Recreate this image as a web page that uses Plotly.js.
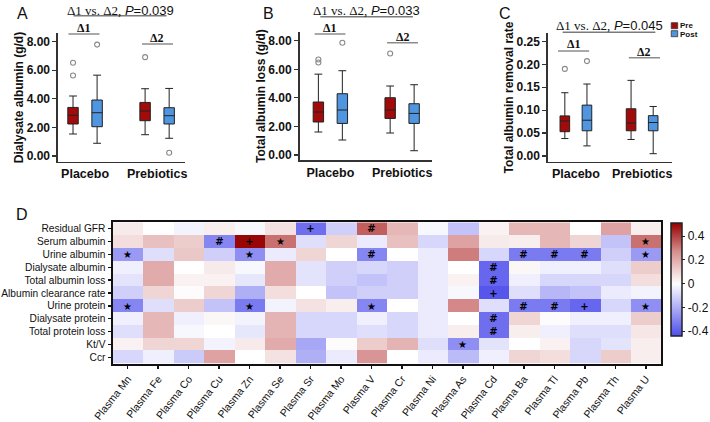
<!DOCTYPE html>
<html>
<head>
<meta charset="utf-8">
<script src="https://cdn.plot.ly/plotly-3.0.1.min.js"></script>
<style>html,body{margin:0;padding:0;background:#fff;}#chart{width:710px;height:422px;}</style>
</head>
<body>
<div id="chart"></div>
<script>
// ---------- DATA ----------
const groups = ['Placebo', 'Prebiotics'];
const phases = ['Pre', 'Post'];
// box stats per group: [lower whisker, q1, median, q3, upper whisker]
const dialAlbPre  = [[1.54, 2.24, 2.85, 3.40, 4.20], [1.49, 2.47, 3.15, 3.75, 4.71]];
const dialAlbPost = [[0.89, 2.05, 3.03, 3.92, 5.66], [1.24, 2.24, 2.82, 3.38, 4.73]];
const dialAlbPreOut  = [[6.53, 5.64], [6.92]];
const dialAlbPostOut = [[7.80], [0.23]];

const totAlbPre  = [[1.61, 2.31, 3.01, 3.71, 5.66], [1.54, 2.56, 3.15, 4.01, 4.83]];
const totAlbPost = [[1.05, 2.21, 3.15, 4.29, 5.90], [0.30, 2.21, 2.91, 3.59, 4.92]];
const totAlbPreOut  = [[6.69, 6.48], [7.11]];
const totAlbPostOut = [[7.86], []];

const remRatePre  = [[0.038, 0.053, 0.0765, 0.0875, 0.138], [0.036, 0.055, 0.072, 0.103, 0.165]];
const remRatePost = [[0.022, 0.055, 0.078, 0.111, 0.157], [0.005, 0.055, 0.073, 0.088, 0.108]];
const remRatePreOut  = [[0.19], []];
const remRatePostOut = [[0.207], []];

const pValues = ['0.039', '0.033', '0.045'];

const metals = ['Plasma Mn','Plasma Fe','Plasma Co','Plasma Cu','Plasma Zn','Plasma Se','Plasma Sr','Plasma Mo','Plasma V',
                'Plasma Cr','Plasma Ni','Plasma As','Plasma Cd','Plasma Ba','Plasma Tl','Plasma Pb','Plasma Th','Plasma U'];
const outcomes = ['Residual GFR','Serum albumin','Urine albumin','Dialysate albumin','Total albumin loss',
                  'Albumin clearance rate','Urine protein','Dialysate protein','Total protein loss','Kt/V','Ccr'];
const corr = [
  [ 0.05, 0.00,-0.03, 0.04,-0.02, 0.07,-0.36,-0.12, 0.35, 0.17,-0.02,-0.15, 0.03, 0.17, 0.17, 0.00, 0.22, 0.04],
  [ 0.08, 0.15, 0.12,-0.30, 0.50, 0.32,-0.08, 0.10,-0.05, 0.15,-0.10, 0.22, 0.05, 0.04, 0.17, 0.10,-0.15, 0.32],
  [-0.25,-0.08, 0.13,-0.12,-0.28,-0.05, 0.10, 0.00,-0.30, 0.00,-0.05, 0.30,-0.10,-0.33,-0.33,-0.33,-0.12,-0.25],
  [-0.04, 0.20, 0.00, 0.05,-0.02, 0.20,-0.07,-0.12,-0.10,-0.12,-0.05, 0.00,-0.38, 0.02,-0.04,-0.04,-0.08, 0.12],
  [-0.07, 0.20, 0.03, 0.03,-0.06, 0.20,-0.07,-0.12,-0.15,-0.12,-0.05, 0.03,-0.38,-0.04,-0.10,-0.10,-0.10, 0.08],
  [-0.12, 0.10, 0.01, 0.10,-0.20, 0.08, 0.00,-0.15,-0.12,-0.12,-0.05,-0.02,-0.42,-0.08,-0.18,-0.15,-0.05,-0.03],
  [-0.30,-0.08, 0.12,-0.15,-0.33,-0.03, 0.07, 0.04,-0.30, 0.00,-0.05, 0.28,-0.08,-0.33,-0.33,-0.38,-0.10,-0.28],
  [-0.04, 0.17,-0.04, 0.02,-0.03, 0.18,-0.10,-0.10,-0.04,-0.10,-0.05, 0.00,-0.36, 0.10, 0.01,-0.04,-0.04, 0.12],
  [-0.08, 0.17,-0.02, 0.00,-0.06, 0.18,-0.10,-0.10,-0.08,-0.10,-0.05, 0.04,-0.36, 0.04,-0.04,-0.08,-0.08, 0.06],
  [ 0.03, 0.10, 0.10,-0.03, 0.05, 0.20,-0.22, 0.01, 0.12, 0.18,-0.08,-0.28,-0.07, 0.00, 0.03,-0.10,-0.07, 0.04],
  [-0.10,-0.04,-0.13, 0.22, 0.00, 0.07,-0.20,-0.05, 0.25, 0.00,-0.05,-0.17,-0.04, 0.10, 0.08,-0.10, 0.12, 0.04]
];
const sig = [
  ['','','','','','','+','','#','','','','','','','','',''],
  ['','','','#','+','*','','','','','','','','','','','','*'],
  ['*','','','','*','','','','#','','','','','#','#','#','','*'],
  ['','','','','','','','','','','','','#','','','','',''],
  ['','','','','','','','','','','','','#','','','','',''],
  ['','','','','','','','','','','','','+','','','','',''],
  ['*','','','','*','','','','*','','','','','#','#','+','','*'],
  ['','','','','','','','','','','','','#','','','','',''],
  ['','','','','','','','','','','','','#','','','','',''],
  ['','','','','','','','','','','','*','','','','','',''],
  ['','','','','','','','','','','','','','','','','','']
];

// ---------- STYLE / LAYOUT ----------
const W = 710, H = 422;
const X = v => v / W, Y = v => 1 - v / H;
const FONT = 'Liberation Sans Narrow, Arial Narrow, Liberation Sans, Arial, sans-serif';
const SERIF = 'Liberation Serif';
const preColor = '#a30a0a', postColor = '#4f95e0';
const OFF = 0.167, BW = 0.145;

// bracket specs: [x0, x1 (axis units), line y px, text centre y px]
const panels = [
  {xa:'x', ya:'y', xd:[58.3,186.7], yd:[33.3,161.7], xr:[-0.377,1.392], yr:[-0.4,8.59], tv:[0,2,4,6,8],
   title:'Dialysate albumin (g/d)', pre:dialAlbPre, post:dialAlbPost, preOut:dialAlbPreOut, postOut:dialAlbPostOut,
   letter:'A', lx:23, top:[-0.16,1.13,15.7,10], d1:[-0.23,0.2,34,28], d2:[0.79,1.22,44,38]},
  {xa:'x2', ya:'y2', xd:[301.7,435], yd:[32.3,160], xr:[-0.429,1.415], yr:[-0.35,8.59], tv:[0,2,4,6,8],
   title:'Total albumin loss (g/d)', pre:totAlbPre, post:totAlbPost, preOut:totAlbPreOut, postOut:totAlbPostOut,
   letter:'B', lx:270, top:[-0.14,1.15,16.7,10.5], d1:[-0.22,0.21,34,28], d2:[0.79,1.22,42.7,36.5]},
  {xa:'x3', ya:'y3', xd:[551.7,676.7], yd:[33.3,161.7], xr:[-0.424,1.45], yr:[-0.0125,0.2677], tv:[0,0.05,0.1,0.15,0.2,0.25],
   title:'Total albumin removal rate', pre:remRatePre, post:remRatePost, preOut:remRatePreOut, postOut:remRatePostOut,
   letter:'C', lx:509, top:[-0.2,1.2,32.3,26], d1:[-0.27,0.2,51,44], d2:[0.8,1.27,57.7,52]}
];

const traces = [];
const shapes = [];
const annotations = [];
const layout = {
  width: W, height: H, margin: {l:0, r:0, t:0, b:0},
  paper_bgcolor: '#fff', plot_bgcolor: '#fff',
  font: {family: FONT, color: '#111', size: 12},
  showlegend: false
};

function boxTrace(stats, off, color, name, p) {
  return {
    type: 'box', name: name, xaxis: p.xa, yaxis: p.ya,
    x: groups.map((g, i) => i + off),
    lowerfence: stats.map(s => s[0]), q1: stats.map(s => s[1]), median: stats.map(s => s[2]),
    q3: stats.map(s => s[3]), upperfence: stats.map(s => s[4]),
    width: BW, whiskerwidth: 0.75, fillcolor: color, line: {color: '#222', width: 1},
    boxpoints: false, hoverinfo: 'skip'
  };
}
function outTrace(outs, off, p) {
  const xs = [], ys = [];
  outs.forEach((arr, i) => arr.forEach(v => { xs.push(i + off); ys.push(v); }));
  return {type: 'scatter', mode: 'markers', xaxis: p.xa, yaxis: p.ya, x: xs, y: ys,
          marker: {symbol: 'circle-open', size: 5, color: '#8a8a8a', line: {width: 1.1}}, hoverinfo: 'skip'};
}

panels.forEach((p, k) => {
  traces.push(boxTrace(p.pre, -OFF, preColor, phases[0], p));
  traces.push(boxTrace(p.post, OFF, postColor, phases[1], p));
  traces.push(outTrace(p.preOut, -OFF, p));
  traces.push(outTrace(p.postOut, OFF, p));
  const xk = p.xa === 'x' ? 'xaxis' : 'xaxis' + p.xa.slice(1);
  const yk = p.ya === 'y' ? 'yaxis' : 'yaxis' + p.ya.slice(1);
  layout[xk] = {domain: [X(p.xd[0]), X(p.xd[1])], range: p.xr, anchor: p.ya,
    tickvals: [0, 1], ticktext: groups, ticks: '', showline: true, linecolor: '#333', linewidth: 1.5,
    showgrid: false, zeroline: false, tickfont: {size: 12.5, weight: 'bold', family: FONT}};
  layout[yk] = {domain: [Y(p.yd[1]), Y(p.yd[0])], range: p.yr, anchor: p.xa,
    tickvals: p.tv, tickformat: '.2f', ticks: 'outside', ticklen: 4, tickwidth: 1.2, tickcolor: '#333',
    showline: true, linecolor: '#333', linewidth: 1.5, showgrid: false, zeroline: false,
    tickfont: {size: 12, weight: 'bold', family: FONT},
    title: {text: p.title, standoff: 0, font: {size: 12, weight: 'bold', family: FONT}}};
  // panel letter
  annotations.push({xref: 'paper', yref: 'paper', x: X(p.lx), y: Y(13), text: p.letter, showarrow: false,
    font: {size: 16, family: 'Liberation Sans'}, xanchor: 'center', yanchor: 'middle'});
  // brackets
  const lines = [[p.top, '#7a7a7a'], [p.d1, '#8c8c8c'], [p.d2, '#8c8c8c']];
  lines.forEach(([b, c]) => shapes.push({type: 'line', xref: p.xa, yref: 'paper', x0: b[0], x1: b[1],
    y0: Y(b[2]), y1: Y(b[2]), line: {color: c, width: 1.5}}));
  annotations.push({xref: p.xa, yref: 'paper', x: (p.top[0] + p.top[1]) / 2, y: Y(p.top[3]), yanchor: 'middle',
    text: '<span style="font-family:Liberation Serif">Δ1 vs. Δ2,</span> <i>P</i>=' + pValues[k],
    showarrow: false, borderpad: 0, font: {size: 13, family: FONT}});
  annotations.push({xref: p.xa, yref: 'paper', x: (p.d1[0] + p.d1[1]) / 2, y: Y(p.d1[3]), yanchor: 'middle',
    text: 'Δ1', showarrow: false, borderpad: 0, font: {size: 12, family: SERIF, weight: 'bold'}});
  annotations.push({xref: p.xa, yref: 'paper', x: (p.d2[0] + p.d2[1]) / 2, y: Y(p.d2[3]), yanchor: 'middle',
    text: 'Δ2', showarrow: false, borderpad: 0, font: {size: 12, family: SERIF, weight: 'bold'}});
});

// custom legend (Pre / Post)
[[phases[0], preColor, 22.7, 25.0], [phases[1], postColor, 30.7, 34.3]].forEach(([n, c, y, ty]) => {
  shapes.push({type: 'rect', xref: 'paper', yref: 'paper', x0: X(676), x1: X(682.5), y0: Y(y + 6), y1: Y(y),
    fillcolor: c, line: {color: '#333', width: 0.8}});
  annotations.push({xref: 'paper', yref: 'paper', x: X(683.5), y: Y(ty), xanchor: 'left', yanchor: 'middle',
    text: n, showarrow: false, borderpad: 0, font: {size: 8, weight: 'bold', family: FONT}});
});

// heatmap
const sigText = sig.map(r => r.map(s => s === '*' ? '★' : s));
traces.push({
  type: 'heatmap', xaxis: 'x4', yaxis: 'y4', x: metals, y: outcomes, z: corr,
  zmin: -0.44, zmax: 0.51,
  colorscale: [[0, 'rgb(78,78,236)'], [0.463, 'rgb(255,255,255)'], [0.75, 'rgb(214,140,140)'], [1, 'rgb(150,0,0)']],
  text: sigText, texttemplate: '%{text}', textfont: {size: 10, color: '#000', weight: 'bold', family: 'DejaVu Sans'},
  hoverinfo: 'skip',
  colorbar: {thickness: 11, len: 113 / H, lenmode: 'fraction', x: X(675.7), xanchor: 'left', y: Y(279.5), yanchor: 'middle',
    xpad: 0, ypad: 0, outlinewidth: 1.5, outlinecolor: '#222',
    tickvals: [-0.4, -0.2, 0, 0.2, 0.4], ticktext: ['-0.4', '-0.2', '0', '0.2', '0.4'],
    ticks: 'outside', ticklen: 3, tickcolor: '#222', tickfont: {size: 12, family: FONT}}
});
layout.xaxis4 = {domain: [X(113.3), X(665.7)], anchor: 'y4', type: 'category', tickangle: -52,
  tickmode: 'array', tickvals: metals, ticktext: metals,
  ticks: 'outside', ticklen: 3, tickwidth: 1.5, tickcolor: '#111', showline: true, mirror: true,
  linecolor: '#111', linewidth: 2, showgrid: false, zeroline: false, tickfont: {size: 10.5, family: FONT}};
layout.yaxis4 = {domain: [Y(363.7), Y(222.3)], anchor: 'x4', type: 'category', autorange: 'reversed',
  tickmode: 'array', tickvals: outcomes, ticktext: outcomes,
  ticks: 'outside', ticklen: 3, tickwidth: 1.5, tickcolor: '#111', showline: true, mirror: true,
  linecolor: '#111', linewidth: 2, showgrid: false, zeroline: false, tickfont: {size: 10.2, family: FONT}};
annotations.push({xref: 'paper', yref: 'paper', x: X(22), y: Y(214), text: 'D', showarrow: false,
  font: {size: 16, family: 'Liberation Sans'}, xanchor: 'center', yanchor: 'middle'});

layout.shapes = shapes;
layout.annotations = annotations;
Plotly.newPlot('chart', traces, layout, {displayModeBar: false, staticPlot: true});
</script>
</body>
</html>
